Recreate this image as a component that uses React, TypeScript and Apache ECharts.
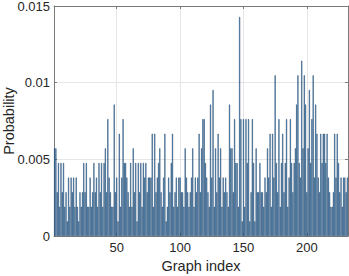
import React, { useEffect, useRef } from "react";
import * as echarts from "echarts";

// Probability levels are multiples of 1/1050 (k values per graph index 1..232)
const levelUnit = 1 / 1050;
const levels: number[] = [
  6, 6, 3, 5, 2, 5, 3, 5, 2, 3, 1, 4, 2, 4, 3, 4, 2, 4, 2, 1,
  3, 2, 3, 5, 3, 5, 2, 2, 4, 2, 3, 5, 3, 4, 2, 5, 3, 5, 2, 5,
  6, 3, 8, 4, 3, 2, 2, 9, 3, 4, 1, 7, 2, 4, 8, 5, 5, 4, 3, 2,
  5, 2, 6, 3, 5, 1, 5, 3, 5, 2, 5, 4, 5, 3, 4, 4,
  4, 7, 2, 7, 3, 4, 5, 6, 3, 2, 4, 7, 1, 2, 4, 3, 5, 7, 2, 3,
  4, 2, 4, 4, 3, 3, 2, 6, 4, 3, 2, 3, 4, 6, 2, 4, 3, 4,
  7, 3, 6, 8, 8, 5, 4, 3, 2, 9, 4, 10, 2, 6, 3, 7, 4, 6, 2, 4,
  3, 4, 3, 2, 9, 6, 6, 3, 8, 5, 5, 2, 15, 8, 1, 8, 2, 8,
  5, 8, 1, 3, 8, 5, 1, 6, 3, 3, 5, 3, 3, 2, 4, 3, 6, 4, 7, 2,
  7, 4, 11, 5, 3, 8, 2, 5, 7, 3, 5, 8, 2, 4, 8, 5, 3, 5, 6, 9,
  11, 5,
  4, 12, 6, 11, 9, 3, 6, 10, 5, 8, 11, 4, 9, 7, 4, 3, 7, 5, 7, 7,
  5, 7, 4, 3, 2, 2, 3, 7, 4, 7, 5, 3, 4, 2, 4, 4, 3, 4,
];
const graphIndex: number[] = levels.map((_, i) => i + 1);
const probability: number[] = levels.map((k) => k * levelUnit);
const xTicks: number[] = [50, 100, 150, 200];
const yTicks: number[] = [0, 0.005, 0.01, 0.015];
const yTickLabels: string[] = ["0", "0.005", "0.01", "0.015"];

const FONT = "Liberation Sans, Arial, Helvetica, sans-serif";
const AXIS_COLOR = "#7a7a7a";
const TEXT_COLOR = "#262626";
const GRID_COLOR = "#e6e6e6";

export default function App() {
  const ref = useRef<HTMLDivElement>(null);
  useEffect(() => {
    if (!ref.current) return;
    const chart = echarts.init(ref.current, undefined, { renderer: "svg" });
    const xMin = 0.5;
    const xMax = graphIndex.length + 0.5;
    chart.setOption({
      animation: false,
      backgroundColor: "#ffffff",
      grid: { left: 54, right: 1, top: 6, bottom: 40, containLabel: false, outerBoundsMode: "none" },
      xAxis: [
        {
          type: "value",
          min: xMin,
          max: xMax,
          position: "bottom",
          name: "Graph index",
          nameLocation: "middle",
          nameGap: 22,
          nameMoveOverlap: false,
          nameTextStyle: { fontFamily: FONT, fontSize: 14.5, color: TEXT_COLOR },
          axisLine: { show: true, onZero: false, lineStyle: { color: AXIS_COLOR, width: 1 } },
          axisTick: { show: true, inside: true, length: 3, customValues: xTicks, lineStyle: { color: AXIS_COLOR } },
          axisLabel: {
            customValues: xTicks,
            margin: 5,
            fontFamily: FONT,
            fontSize: 13,
            color: TEXT_COLOR,
          },
          splitLine: { show: true, customValues: xTicks, lineStyle: { color: GRID_COLOR, width: 1 } },
        },
        {
          type: "value",
          min: xMin,
          max: xMax,
          position: "top",
          axisLine: { show: true, onZero: false, lineStyle: { color: AXIS_COLOR, width: 1 } },
          axisTick: { show: true, inside: true, length: 3, customValues: xTicks, lineStyle: { color: AXIS_COLOR } },
          axisLabel: { show: false },
          splitLine: { show: false },
        },
      ],
      yAxis: [
        {
          type: "value",
          min: 0,
          max: 0.015,
          interval: 0.005,
          position: "left",
          name: "Probability",
          nameLocation: "middle",
          nameGap: 38,
          nameMoveOverlap: false,
          nameTextStyle: { fontFamily: FONT, fontSize: 14.5, color: TEXT_COLOR },
          axisLine: { show: true, onZero: false, lineStyle: { color: AXIS_COLOR, width: 1 } },
          axisTick: { show: true, inside: true, length: 3, lineStyle: { color: AXIS_COLOR } },
          axisLabel: {
            margin: 4,
            fontFamily: FONT,
            fontSize: 13,
            color: TEXT_COLOR,
            formatter: (v: number) => {
              const idx = yTicks.findIndex((t) => Math.abs(t - v) < 1e-9);
              return idx >= 0 ? yTickLabels[idx] : "";
            },
          },
          splitLine: { show: true, lineStyle: { color: GRID_COLOR, width: 1 } },
        },
        {
          type: "value",
          min: 0,
          max: 0.015,
          interval: 0.005,
          position: "right",
          axisLine: { show: true, onZero: false, lineStyle: { color: AXIS_COLOR, width: 1 } },
          axisTick: { show: true, inside: true, length: 3, lineStyle: { color: AXIS_COLOR } },
          axisLabel: { show: false },
          splitLine: { show: false },
        },
      ],
      series: [
        {
          type: "bar",
          xAxisIndex: 0,
          yAxisIndex: 0,
          barWidth: 1.05,
          data: graphIndex.map((g, i) => [g, probability[i]]),
          itemStyle: { color: "#3b8fd6", borderColor: "#1d3650", borderWidth: 0.4 },
        },
      ],
    });
    return () => chart.dispose();
  }, []);
  return <div ref={ref} style={{ width: 349, height: 276, position: "absolute", left: 0, top: 0 }} />;
}
